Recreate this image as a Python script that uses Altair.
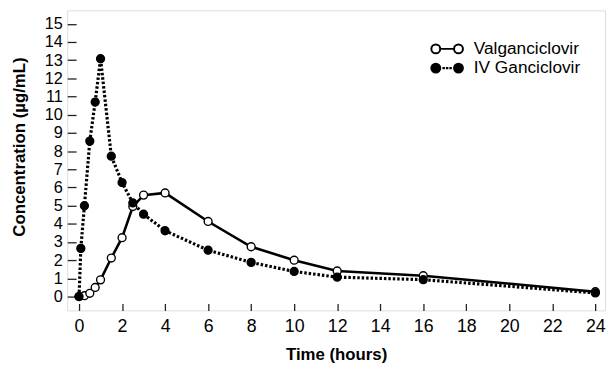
import altair as alt
import pandas as pd

series_names = ["Valganciclovir", "IV Ganciclovir"]

valg_time = [0, 0.25, 0.5, 0.75, 1, 1.5, 2, 2.5, 3, 4, 6, 8, 10, 12, 16, 24]
valg_conc = [0, 0.05, 0.18, 0.5, 0.92, 2.12, 3.24, 4.95, 5.58, 5.7, 4.13, 2.74, 2.0, 1.41, 1.15, 0.27]

iv_time = [0, 0.083, 0.25, 0.5, 0.75, 1, 1.5, 2, 2.5, 3, 4, 6, 8, 10, 12, 16, 24]
iv_conc = [0, 2.65, 5.0, 8.55, 10.7, 13.08, 7.72, 6.27, 5.15, 4.53, 3.62, 2.55, 1.88, 1.38, 1.07, 0.93, 0.2]

x_ticks = list(range(0, 25, 2))
y_ticks = list(range(0, 16))

rows = []
for t, c in zip(valg_time, valg_conc):
    rows.append({"time": t, "conc": c, "series": series_names[0]})
for t, c in zip(iv_time, iv_conc):
    rows.append({"time": t, "conc": c, "series": series_names[1]})
df = pd.DataFrame(rows)

FONT = "Liberation Sans"

# legend symbols (unit = 8px): circle - line - circle
circles = (
    "M -2 0 A 0.5625 0.5625 0 1 0 -0.875 0 A 0.5625 0.5625 0 1 0 -2 0 Z "
    "M 0.875 0 A 0.5625 0.5625 0 1 0 2 0 A 0.5625 0.5625 0 1 0 0.875 0 Z "
)
valg_symbol = circles + "M -0.875 0 L 0.875 0"
iv_symbol = circles + (
    "M -0.47 -0.03 L -0.41 -0.03 L -0.41 0.03 L -0.47 0.03 Z "
    "M -0.03 -0.03 L 0.03 -0.03 L 0.03 0.03 L -0.03 0.03 Z "
    "M 0.41 -0.03 L 0.47 -0.03 L 0.47 0.03 L 0.41 0.03 Z"
)
symbol_expr = f"datum.value === '{series_names[1]}' ? '{iv_symbol}' : '{valg_symbol}'"

legend = alt.Legend(
    title=None,
    orient="none",
    legendX=376,
    legendY=30,
    padding=0,
    symbolType=alt.ExprRef(expr=symbol_expr),
    symbolSize=256,
    symbolStrokeWidth=2,
    symbolStrokeColor="black",
    labelFont=FONT,
    labelFontSize=17.5,
    labelColor="black",
    labelOffset=18,
    rowPadding=1.5,
)

x_enc = alt.X(
    "time:Q",
    scale=alt.Scale(domain=[-0.55, 24.45], nice=False, zero=False),
    axis=alt.Axis(
        values=x_ticks,
        title="Time (hours)",
        domain=False,
        grid=False,
        tickSize=alt.ExprRef(expr="-7"),
        tickColor="#222",
        tickWidth=1.3,
        labelPadding=14,
        labelOverlap=False,
        labelFont=FONT,
        labelFontSize=18,
        labelColor="black",
        titleFont=FONT,
        titleFontSize=17,
        titleFontWeight="bold",
        titleColor="black",
        titleBaseline="middle",
        titleY=45,
    ),
)
y_enc = alt.Y(
    "conc:Q",
    scale=alt.Scale(domain=[-0.76, 15.74], nice=False, zero=False),
    axis=alt.Axis(
        values=y_ticks,
        title="Concentration (µg/mL)",
        domain=False,
        grid=False,
        tickSize=alt.ExprRef(expr="-9"),
        tickColor="#222",
        tickWidth=1.3,
        labelPadding=14,
        labelOverlap=False,
        labelFont=FONT,
        labelFontSize=16.5,
        labelColor="black",
        titleFont=FONT,
        titleFontSize=17,
        titleFontWeight="bold",
        titleColor="black",
        titleBaseline="middle",
        titleX=-48,
        titleY=138,
    ),
)

fill_scale = alt.Scale(domain=series_names, range=["white", "black"])

base = alt.Chart(df)

line_valg = base.transform_filter(
    alt.datum.series == series_names[0]
).mark_line(color="black", strokeWidth=2.6).encode(x=x_enc, y=y_enc)

line_iv = base.transform_filter(
    alt.datum.series == series_names[1]
).mark_line(color="black", strokeWidth=3.2, strokeDash=[2.5, 2]).encode(x=x_enc, y=y_enc)

points = base.mark_point(
    shape="circle", size=64, stroke="black", strokeWidth=1.4, opacity=1
).encode(
    x=x_enc,
    y=y_enc,
    fill=alt.Fill("series:N", scale=fill_scale, legend=legend, sort=series_names),
)

chart = alt.layer(line_valg, line_iv, points).properties(
    width=545,
    height=304,
    autosize=alt.AutoSizeParams(type="none"),
    padding={"left": 60, "top": 0, "right": 2, "bottom": 60},
).configure_view(
    stroke="#222", strokeWidth=1.5
).configure(background="white")

chart.save("out.html", embed_options={"renderer": "svg", "actions": False})
